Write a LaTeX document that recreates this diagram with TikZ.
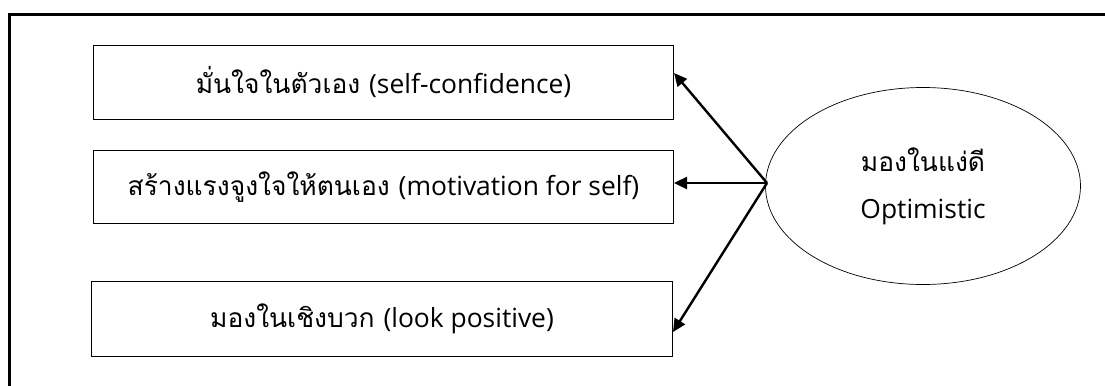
\documentclass[tikz,border=0pt]{standalone}
\usepackage{fontspec}
\setmainfont{Open Sans}
\newfontfamily\thai[Script=Thai]{Loma}
\usetikzlibrary{arrows.meta,shapes.geometric}
\tikzset{
  itembox/.style={draw=black, line width=1pt, minimum width=580bp, minimum height=74bp,
    inner sep=0pt, font=\fontsize{26.5}{30}\selectfont, anchor=north west},
  link/.style={line width=2.4bp, -{Triangle[length=13bp,width=12bp]}},
}
\begin{document}
\begin{tikzpicture}[x=1bp,y=-1bp]
\useasboundingbox (0,0) rectangle (1105,385);
% outer frame (top and left edges)
\draw[line width=3bp] (1105,14) -- (9,14) -- (9,386);
% the three items
\node[itembox] (b1) at (93,45) {\thai มั่นใจในตัวเอง\ \rmfamily(self-confidence)};
\node[itembox, minimum height=73bp] (b2) at (93,150) {\thai สร้างแรงจูงใจให้ตนเอง\ \rmfamily(motivation for self)};
\node[itembox, minimum width=581bp, minimum height=75bp] (b3) at (91,281) {\thai มองในเชิงบวก\ \rmfamily(look positive)};
% central idea
\node[draw=black, line width=0.7bp, ellipse, minimum width=315bp, minimum height=197bp,
  inner sep=0pt, align=center, font=\fontsize{26.5}{47}\selectfont] (opt) at (923,186)
  {{\thai มองในแง่ดี}\\Optimistic};
\coordinate (src) at (767,183);
\draw[link] (src) -- (b1.east |- 0,73);
\draw[link] (src) -- (b2.east |- src);
\draw[link] (src) -- (b3.east |- 0,332);
\end{tikzpicture}
\end{document}
